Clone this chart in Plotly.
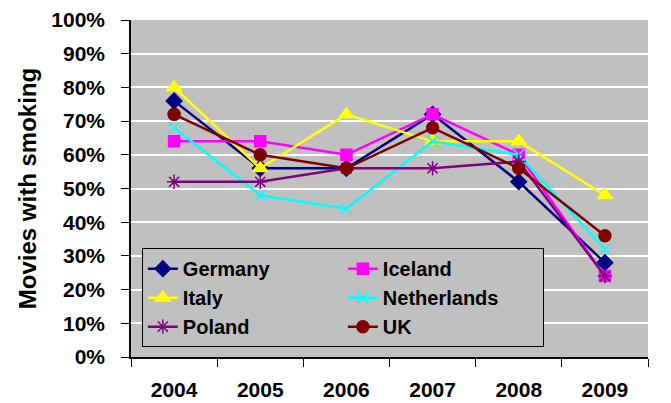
import plotly.graph_objects as go

years = ["2004", "2005", "2006", "2007", "2008", "2009"]
germany = [0.76, 0.56, 0.56, 0.72, 0.52, 0.28]
iceland = [0.64, 0.64, 0.60, 0.72, 0.60, 0.24]
italy = [0.80, 0.56, 0.72, 0.64, 0.64, 0.48]
netherlands = [0.68, 0.48, 0.44, 0.64, 0.60, 0.32]
poland = [0.52, 0.52, 0.56, 0.56, 0.58, 0.24]
uk = [0.72, 0.60, 0.56, 0.68, 0.56, 0.36]

series = [
    ("Germany", germany, "#000080", "diamond", 12),
    ("Iceland", iceland, "#FF00FF", "square", 11),
    ("Italy", italy, "#FFFF00", "triangle-up", 13),
    ("Netherlands", netherlands, "#00FFFF", "x-thin-open", 11),
    ("Poland", poland, "#800080", "asterisk-open", 12),
    ("UK", uk, "#800000", "circle", 12),
]

fig = go.Figure()
for name, vals, color, sym, size in series:
    fig.add_trace(go.Scatter(
        x=years, y=vals, name=name, mode="lines+markers",
        line=dict(color=color, width=2.5),
        marker=dict(symbol=sym, size=size, color=color,
                    line=dict(color=color, width=1.5)),
    ))

font_family = "Liberation Sans, Arial, sans-serif"
# page body has an 8px default margin, so the figure is 8px smaller and margins offset
fig.update_layout(
    width=663, height=395,
    margin=dict(l=123, r=23, t=12, b=46),
    paper_bgcolor="white", plot_bgcolor="#C0C0C0",
    font=dict(family=font_family, color="black", size=22),
    showlegend=True,
    legend=dict(
        orientation="h", x=0.021, y=0.323, xanchor="left", yanchor="top",
        bgcolor="#C0C0C0", bordercolor="black", borderwidth=1,
        font=dict(size=20, family=font_family, color="black", weight="bold"),
        entrywidth=155, entrywidthmode="pixels", itemwidth=30,
    ),
    xaxis=dict(
        type="category", range=[-0.5, 5.5], tickson="boundaries",
        ticks="outside", ticklen=8, tickcolor="black",
        showline=True, linecolor="black", linewidth=1.5,
        showgrid=False, ticklabelstandoff=13, automargin=False,
        tickfont=dict(size=21, weight="bold"),
    ),
    yaxis=dict(
        range=[0, 1], dtick=0.1, tickformat=".0%",
        ticks="outside", ticklen=8, tickcolor="black",
        showline=True, linecolor="black", linewidth=1.5,
        showgrid=True, gridcolor="white", gridwidth=1.5,
        zeroline=False, ticklabelstandoff=12, automargin=False,
        tickfont=dict(size=21, weight="bold"),
        title=dict(text="Movies with smoking", standoff=8,
                   font=dict(size=24, weight="bold")),
    ),
)

fig.write_html("out.html")
